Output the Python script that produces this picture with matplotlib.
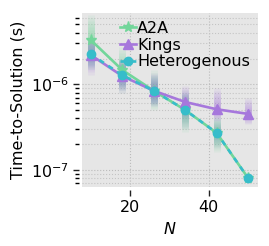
import matplotlib
matplotlib.use("Agg")
import matplotlib.pyplot as plt
import numpy as np

N = [10, 18, 26, 34, 42, 50]
a2a = [3.3e-6, 1.47e-6, 8.4e-7, 5.0e-7, 2.7e-7, 8.0e-8]
a2a_lo = [1.5e-6, 8.0e-7, 5.0e-7, 2.8e-7, 1.6e-7, 7.5e-8]
a2a_hi = [6.5e-6, 2.7e-6, 1.45e-6, 8.5e-7, 4.2e-7, 8.5e-8]
kings = [2.2e-6, 1.25e-6, 8.4e-7, 6.2e-7, 5.1e-7, 4.5e-7]
kings_lo = [1.3e-6, 8.0e-7, 5.5e-7, 4.2e-7, 3.7e-7, 3.4e-7]
kings_hi = [3.4e-6, 2.0e-6, 1.35e-6, 9.5e-7, 9.0e-7, 7.0e-7]
het = [2.25e-6, 1.28e-6, 8.4e-7, 5.0e-7, 2.7e-7, 8.0e-8]
het_lo = [1.5e-6, 8.5e-7, 5.5e-7, 3.0e-7, 1.8e-7, 7.5e-8]
het_hi = [3.5e-6, 2.0e-6, 1.3e-6, 8.0e-7, 4.0e-7, 8.5e-8]

c_a2a = "#72d69a"
c_kings = "#a677dc"
c_het = "#37bdca"

fig = plt.figure(figsize=(2.69, 2.46), dpi=100)
ax = fig.add_axes([0.305, 0.24, 0.654, 0.707])
ax.set_facecolor("#e6e6e6")
for s in ax.spines.values():
    s.set_visible(False)
ax.spines["left"].set_position(("outward", 2))
ax.spines["bottom"].set_position(("outward", 2))

def fuzzy(x, y, lo, hi, color):
    layers = 8
    for xi, yi, l, h in zip(x, y, lo, hi):
        for k in range(1, layers + 1):
            f = k / layers
            yl = np.exp(np.log(yi) + f * (np.log(l) - np.log(yi)))
            yh = np.exp(np.log(yi) + f * (np.log(h) - np.log(yi)))
            ax.vlines(xi, yl, yh, color=color, lw=5, alpha=0.09, zorder=2)

fuzzy(N, a2a, a2a_lo, a2a_hi, c_a2a)
fuzzy(N, kings, kings_lo, kings_hi, c_kings)
fuzzy(N, het, het_lo, het_hi, "#7aa0b8")

ax.plot(N, a2a, color=c_a2a, lw=1.9, marker="*", ms=8, label="A2A", zorder=3)
ax.plot(N, kings, color=c_kings, lw=1.9, marker="^", ms=7, label="Kings", zorder=3)
ax.plot(N, het, color=c_het, lw=1.9, ls=(0, (2, 2)), marker="o", ms=6,
        label="Heterogenous", zorder=4)

ax.set_yscale("log")
ax.set_xlim(7.8, 52.5)
ax.set_ylim(6.3e-8, 6.8e-6)
ax.set_xticks([20, 40])
ax.tick_params(axis="both", labelsize=11.5, colors="#222222", labelcolor="black")
ax.tick_params(axis="y", which="major", length=4, width=1)
ax.tick_params(axis="y", which="minor", length=3, width=1)
ax.tick_params(axis="x", which="major", length=4, width=1)
ax.grid(True, which="major", ls=":", color="#bbbbbb", lw=0.8)
ax.grid(True, which="minor", axis="y", ls=":", color="#c4c4c4", lw=0.8)
ax.set_axisbelow(True)

ax.set_xlabel("$N$", fontsize=11.5)
ax.set_ylabel("Time-to-Solution (s)", fontsize=11.5)

leg = ax.legend(loc="upper right", frameon=False, fontsize=11.5, handlelength=1.0,
                handletextpad=0.1, labelspacing=0.1, borderaxespad=0.1,
                bbox_to_anchor=(1.0, 1.0))

fig.savefig("out.png", dpi=100)
